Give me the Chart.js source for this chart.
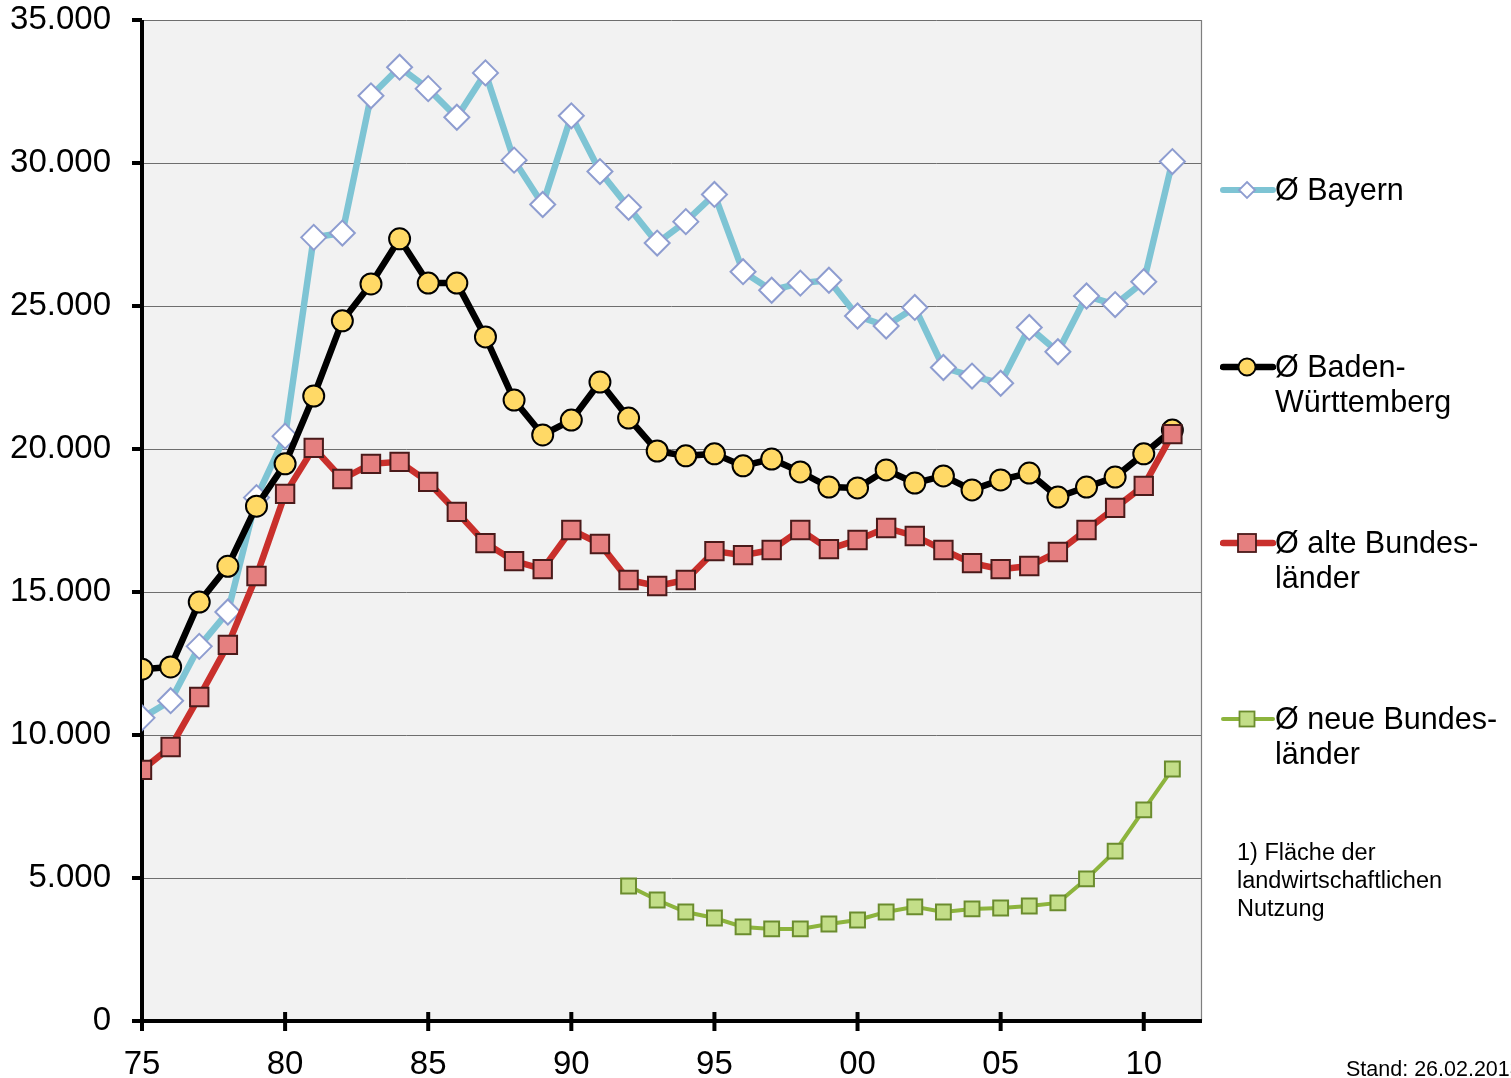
<!DOCTYPE html>
<html>
<head>
<meta charset="utf-8">
<script src="https://cdn.jsdelivr.net/npm/chart.js@4"></script>
<style>
  html,body{margin:0;padding:0;background:#fff;}
  #wrap{position:relative;width:1511px;height:1078px;overflow:hidden;font-family:"Liberation Sans",Arial,sans-serif;color:#000;}
  canvas{position:absolute;left:0;top:0;}
  .lg{position:absolute;left:1220px;height:36px;}
  .lgt{position:absolute;left:1275px;font-size:30.5px;line-height:35px;white-space:nowrap;}
  .note{position:absolute;left:1237px;top:838px;font-size:23.5px;line-height:28px;white-space:nowrap;}
  .stand{position:absolute;left:1346px;top:1057px;font-size:21.5px;white-space:nowrap;}
</style>
</head>
<body>
<div id="wrap">
  <canvas id="c" width="1511" height="1078"></canvas>
  <svg class="lg" style="top:172px" width="56" height="36"><line x1="3" y1="18" x2="53" y2="18" stroke="#7ec4d4" stroke-width="6" stroke-linecap="round"/><polygon points="27,10 35,18 27,26 19,18" fill="#fff" stroke="#8e9dd0" stroke-width="1.8"/></svg>
  <div class="lgt" style="top:172px">Ø Bayern</div>
  <svg class="lg" style="top:349px" width="56" height="36"><line x1="3" y1="18" x2="53" y2="18" stroke="#000" stroke-width="6.5" stroke-linecap="round"/><circle cx="27" cy="18" r="8.5" fill="#ffd966" stroke="#000" stroke-width="1.8"/></svg>
  <div class="lgt" style="top:349px">Ø Baden-<br>Württemberg</div>
  <svg class="lg" style="top:525px" width="56" height="36"><line x1="3" y1="18" x2="53" y2="18" stroke="#c9302c" stroke-width="6.5" stroke-linecap="round"/><rect x="18" y="9" width="18" height="18" fill="#e57f7f" stroke="#4a1a1a" stroke-width="1.8"/></svg>
  <div class="lgt" style="top:525px">Ø alte Bundes-<br>länder</div>
  <svg class="lg" style="top:701px" width="56" height="36"><line x1="3" y1="18" x2="53" y2="18" stroke="#8db43d" stroke-width="4" stroke-linecap="round"/><rect x="19.5" y="10.5" width="15" height="15" fill="#c3de88" stroke="#6b8c2e" stroke-width="1.8"/></svg>
  <div class="lgt" style="top:701px">Ø neue Bundes-<br>länder</div>
  <div class="note">1) Fläche der<br>landwirtschaftlichen<br>Nutzung</div>
  <div class="stand">Stand: 26.02.2013</div>
</div>
<script>
const years = [1975,1976,1977,1978,1979,1980,1981,1982,1983,1984,1985,1986,1987,1988,1989,1990,1991,1992,1993,1994,1995,1996,1997,1998,1999,2000,2001,2002,2003,2004,2005,2006,2007,2008,2009,2010,2011];
const bayern = [10600,11200,13100,14300,18300,20450,27400,27550,32350,33350,32600,31600,33150,30100,28550,31650,29700,28450,27200,27950,28900,26200,25550,25800,25900,24650,24300,24950,22850,22550,22300,24250,23400,25350,25050,25850,30050];
const bw = [12300,12380,14650,15900,18000,19480,21850,24480,25770,27350,25800,25800,23920,21710,20490,21010,22340,21080,19930,19760,19830,19410,19650,19200,18670,18640,19270,18810,19060,18570,18920,19160,18320,18670,19020,19830,20660];
const alte = [8780,9580,11330,13150,15560,18430,20040,18950,19480,19550,18850,17800,16710,16080,15800,17170,16680,15420,15210,15420,16430,16290,16470,17170,16500,16820,17240,16960,16470,16010,15800,15910,16400,17170,17940,18710,20520];
const neue = [null,null,null,null,null,null,null,null,null,null,null,null,null,null,null,null,null,4720,4230,3810,3600,3290,3220,3220,3390,3530,3810,3990,3810,3920,3950,4020,4130,4970,5940,7380,8810];
const yTicks = [0,5000,10000,15000,20000,25000,30000,35000];
const xTickLabels = {1975:'75',1980:'80',1985:'85',1990:'90',1995:'95',2000:'00',2005:'05',2010:'10'};

const pts = arr => years.map((y,i)=>({x:y,y:arr[i]}));

const bgPlugin = {
  id:'bg',
  beforeDraw(chart){
    const {ctx, chartArea:a} = chart;
    ctx.save();
    ctx.fillStyle='#f2f2f2';
    ctx.fillRect(a.left,a.top,a.right-a.left,a.bottom-a.top);
    ctx.restore();
  },
  beforeDatasetsDraw(chart){
    const {ctx, chartArea:a, scales} = chart;
    ctx.save();
    ctx.strokeStyle='#7f7f7f'; ctx.lineWidth=1.2;
    ctx.beginPath(); ctx.moveTo(a.right+0.5,a.top); ctx.lineTo(a.right+0.5,a.bottom); ctx.stroke();
    ctx.strokeStyle='#000'; ctx.lineWidth=4; ctx.lineCap='butt';
    ctx.beginPath(); ctx.moveTo(a.left,a.top); ctx.lineTo(a.left,a.bottom+2); ctx.stroke();
    ctx.beginPath(); ctx.moveTo(a.left-10,a.bottom); ctx.lineTo(a.right+1,a.bottom); ctx.stroke();
    yTicks.forEach(v=>{
      const py = scales.y.getPixelForValue(v);
      ctx.beginPath(); ctx.moveTo(a.left-10,py); ctx.lineTo(a.left,py); ctx.stroke();
    });
    Object.keys(xTickLabels).forEach(k=>{
      const px = scales.x.getPixelForValue(+k);
      ctx.beginPath(); ctx.moveTo(px,a.bottom-9); ctx.lineTo(px,a.bottom+10); ctx.stroke();
    });
    ctx.restore();
  }
};

new Chart(document.getElementById('c'), {
  type:'line',
  data:{
    datasets:[
      {label:'Ø Bayern', data:pts(bayern), borderColor:'#7ec4d4', borderWidth:6.5, pointStyle:'rectRot', pointRadius:12.5, pointBackgroundColor:'#ffffff', pointBorderColor:'#8e9dd0', pointBorderWidth:2, tension:0},
      {label:'Ø Baden-Württemberg', data:pts(bw), borderColor:'#000000', borderWidth:6.5, pointStyle:'circle', pointRadius:10.5, pointBackgroundColor:'#ffd966', pointBorderColor:'#000000', pointBorderWidth:2, tension:0},
      {label:'Ø alte Bundesländer', data:pts(alte), borderColor:'#c9302c', borderWidth:6.5, pointStyle:'rect', pointRadius:13, pointBackgroundColor:'#e57f7f', pointBorderColor:'#4a1a1a', pointBorderWidth:2, tension:0},
      {label:'Ø neue Bundesländer', data:pts(neue), borderColor:'#8db43d', borderWidth:4, pointStyle:'rect', pointRadius:10.5, pointBackgroundColor:'#c3de88', pointBorderColor:'#6b8c2e', pointBorderWidth:2, tension:0, spanGaps:false}
    ].reverse()
  },
  options:{
    responsive:false, animation:false, devicePixelRatio:1,
    layout:{padding:{left:0,top:20,right:310,bottom:0}},
    plugins:{legend:{display:false}, tooltip:{enabled:false}},
    scales:{
      x:{type:'linear', min:1975, max:2012,
        afterFit(s){s.height=57; s.paddingLeft=0; s.paddingRight=0;},
        afterBuildTicks(s){s.ticks = Object.keys(xTickLabels).map(k=>({value:+k}));},
        grid:{display:false, drawTicks:false}, border:{display:false},
        ticks:{padding:24, color:'#000', font:{family:'Liberation Sans', size:33}, maxRotation:0, autoSkip:false,
          callback:v=>xTickLabels[v]||''}
      },
      y:{min:0, max:35000,
        afterFit(s){s.width=142; s.paddingTop=0; s.paddingBottom=0;},
        afterBuildTicks(s){s.ticks = yTicks.map(v=>({value:v}));},
        grid:{drawTicks:false, color:'#6e6e6e', lineWidth:1, borderDash:[1,1]}, border:{display:false},
        ticks:{padding:31, color:'#000', font:{family:'Liberation Sans', size:33},
          callback:v=>v===0?'0':v.toLocaleString('de-DE')}
      }
    }
  },
  plugins:[bgPlugin]
});
</script>
</body>
</html>
